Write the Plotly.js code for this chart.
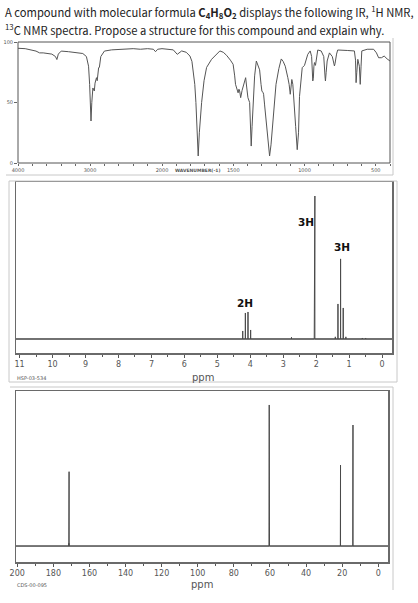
<!DOCTYPE html>
<html>
<head>
<meta charset="utf-8">
<script src="https://cdn.plot.ly/plotly-3.0.1.min.js"></script>
<style>html,body{margin:0;padding:0;background:#fff;}#chart{width:418px;height:603px;}</style>
</head>
<body>
<div id="chart"></div>
<script>
// ---------- DATA ----------
// IR spectrum (wavenumber cm-1, % transmittance)
const irWavenumber = [4000,3900,3750,3700,3650,3600,3530,3480,3460,3440,3400,3300,3200,3100,3050,3020,3005,2995,2986,2975,2960,2940,2930,2910,2900,2880,2870,2850,2800,2700,2600,2500,2400,2300,2200,2120,2090,2060,2000,1950,1921,1893,1862,1830,1804,1790,1781,1770,1762,1755,1746,1738,1730,1722,1705,1687,1652,1620,1594,1570,1547,1520,1501,1490,1484,1466,1460,1455,1448,1438,1427,1413,1405,1397,1385,1378,1374,1368,1363,1350,1338,1325,1315,1305,1299,1290,1287,1280,1268,1255,1245,1235,1220,1200,1180,1163,1150,1135,1117,1108,1100,1094,1089,1082,1075,1062,1051,1042,1035,1025,1016,1000,985,977,960,950,942,938,934,930,923,915,907,883,865,855,853,848,841,825,805,790,786,775,767,700,650,642,638,633,626,615,609,603,598,560,515,495,480,460,441,420,400];
const irTransmittance = [94.8,94.5,92.5,91,91,90.5,90,88,85.5,90,92.5,92,91.5,90.5,88,80,65,45,34.7,50,62,59.5,66,70.5,68,78.8,79,88,92.5,93.5,94,94.5,94.5,94,94.5,94,92,94,94.5,94,93.5,89.8,92.6,91.5,88.4,84,77,65,50,25,5.8,25,40,50,68,79,85.7,90,92.6,91.5,89,85,81.6,72,65,58,61,59.5,54,60,65,70.5,62,54,50,30,14,30,45.7,72,84.3,81,77,65,59.5,58,56.8,48,33,15,5.8,15,40,65,78,86,84,80,70.5,65,56.8,65,69,65,50,30,11,25,55,72,78.8,80.7,86,89.8,92.6,88,67.8,70,80,83,80.7,88,93.4,92.6,88,70,67.8,75,84.3,91,88,80.2,82,90,93.4,93,92.6,85,66.4,75,85.7,80,65,80,92.6,94,94,91,87,87,88.4,86,84.3];
const irXTicks = [4000,3000,2000,1500,1000,500];
const irYTicks = [0,50,100];

// 1H NMR (chemical shift ppm, relative intensity)
const hShift     = [4.23,4.15,4.07,3.99,2.75,2.06,2.04,1.42,1.34,1.26,1.18,1.10,0.60,0.50];
const hIntensity = [5.6,18.2,18.9,6.3,1.2,6,100,1.5,24.5,56,21.7,1.5,0.7,0.7];
const hLabels    = ['2H','3H','3H'];
const hLabelX    = [4.17,2.32,1.22];
const hLabelY    = [25.2,81.8,64.3];
const hTicks     = [0,1,2,3,4,5,6,7,8,9,10,11];

// 13C NMR (chemical shift ppm, relative intensity)
const cShift     = [171.4,171.3,60.55,60.4,60.25,21.0,20.9,14.1,14.0];
const cIntensity = [2,52.7,13,100,13,2,57.4,3.5,85.8];
const cTicks     = [0,20,40,60,80,100,120,140,160,180,200];

// ---------- helpers ----------
const W = 418, H = 603;
const px = v => v / W;
const py = v => 1 - v / H;

function stickTrace(shifts, heights, xr, xa, ya) {
  const idx = shifts.map((s, i) => i).sort((a, b) => shifts[b] - shifts[a]);
  const x = [xr[0]], y = [0];
  idx.forEach(i => { x.push(shifts[i], shifts[i], shifts[i]); y.push(0, heights[i], 0); });
  x.push(xr[1]); y.push(0);
  return {x, y, xaxis: xa, yaxis: ya, type: 'scatter', mode: 'lines',
          line: {color: '#4a4a4a', width: 1}, hoverinfo: 'skip', showlegend: false};
}

const hRange = [11.11, -0.30];
const cRange = [200.7, -5.4];

const irLine = {color: '#555', width: 1};
const traces = [
  {x: irWavenumber, y: irTransmittance, xaxis: 'x', yaxis: 'y', type: 'scatter', mode: 'lines', line: irLine, showlegend: false},
  {x: irWavenumber, y: irTransmittance, xaxis: 'x2', yaxis: 'y', type: 'scatter', mode: 'lines', line: irLine, showlegend: false},
  {x: hRange, y: [0, 0], xaxis: 'x3', yaxis: 'y3', type: 'scatter', mode: 'lines', line: {color: '#9a9a9a', width: 2}, showlegend: false},
  stickTrace(hShift, hIntensity, hRange, 'x3', 'y3'),
  {x: cRange, y: [0, 0], xaxis: 'x4', yaxis: 'y4', type: 'scatter', mode: 'lines', line: {color: '#8a8a8a', width: 1.5}, showlegend: false},
  stickTrace(cShift, cIntensity, cRange, 'x4', 'y4')
];

const tinyFont = {family: 'DejaVu Sans', size: 5, color: '#555'};
const nmrFont = {family: 'DejaVu Sans', size: 8, color: '#555'};

const irAxisCommon = {
  showgrid: false, zeroline: false, showline: false,
  ticks: 'outside', ticklen: 2, tickwidth: 1, tickcolor: '#666',
  tickfont: tinyFont, tickmode: 'array', anchor: 'y', fixedrange: true
};

const layout = {
  width: W, height: H,
  margin: {l: 0, r: 0, t: 0, b: 0},
  paper_bgcolor: '#fff', plot_bgcolor: '#fff',
  showlegend: false,
  xaxis: Object.assign({}, irAxisCommon, {
    domain: [px(18), px(162)], range: [4000, 2000],
    tickvals: irXTicks.filter(v => v > 2000), ticktext: irXTicks.filter(v => v > 2000).map(String),
    minor: {tickmode: 'linear', tick0: 0, dtick: 200, ticks: 'outside', ticklen: 1.5, tickcolor: '#666'}
  }),
  xaxis2: Object.assign({}, irAxisCommon, {
    domain: [px(162), px(390)], range: [2000, 400],
    tickvals: irXTicks.filter(v => v <= 2000), ticktext: irXTicks.filter(v => v <= 2000).map(String),
    minor: {tickmode: 'linear', tick0: 0, dtick: 100, ticks: 'outside', ticklen: 1.5, tickcolor: '#666'}
  }),
  yaxis: {
    domain: [py(163), py(42)], range: [0, 100], anchor: 'x',
    showgrid: false, zeroline: false, showline: false,
    tickmode: 'array', tickvals: irYTicks, ticktext: irYTicks.map(String),
    ticks: 'outside', ticklen: 3, tickcolor: '#666', tickfont: tinyFont, fixedrange: true
  },
  xaxis3: {
    domain: [px(16), px(392)], range: hRange, anchor: 'y3',
    showgrid: false, zeroline: false, showline: true, mirror: true, linecolor: '#6a6a6a', linewidth: 1.5,
    tickmode: 'array', tickvals: hTicks, ticktext: hTicks.map(String),
    ticks: 'outside', ticklen: 3, tickcolor: '#555', tickfont: nmrFont,
    minor: {tickmode: 'linear', tick0: 0, dtick: 0.5, ticks: 'outside', ticklen: 2, tickcolor: '#555'}
  },
  yaxis3: {
    domain: [py(353), py(182)], range: [-9.8, 109.8], anchor: 'x3',
    showgrid: false, zeroline: false, showline: true, mirror: true, linecolor: '#6a6a6a', linewidth: 1.5,
    showticklabels: false, ticks: ''
  },
  xaxis4: {
    domain: [px(16), px(388)], range: cRange, anchor: 'y4',
    showgrid: false, zeroline: false, showline: true, mirror: true, linecolor: '#6a6a6a', linewidth: 1.5,
    tickmode: 'array', tickvals: cTicks, ticktext: cTicks.map(String),
    ticks: 'outside', ticklen: 3, tickcolor: '#555', tickfont: nmrFont,
    minor: {tickmode: 'linear', tick0: 0, dtick: 10, ticks: 'outside', ticklen: 2, tickcolor: '#555'}
  },
  yaxis4: {
    domain: [py(562), py(391)], range: [-11.3, 109.9], anchor: 'x4',
    showgrid: false, zeroline: false, showline: true, mirror: true, linecolor: '#6a6a6a', linewidth: 1.5,
    showticklabels: false, ticks: ''
  },
  shapes: [
    // IR plot frame
    {type: 'rect', xref: 'paper', yref: 'paper', x0: px(18), x1: px(390), y0: py(163), y1: py(42), line: {color: '#555', width: 1}},
    // screenshot panel borders
    {type: 'line', xref: 'paper', yref: 'paper', x0: px(6), x1: px(393), y0: py(175), y1: py(175), line: {color: '#c8c8c8', width: 1}},
    {type: 'line', xref: 'paper', yref: 'paper', x0: px(393), x1: px(393), y0: py(38), y1: py(175), line: {color: '#c8c8c8', width: 1}},
    {type: 'rect', xref: 'paper', yref: 'paper', x0: px(9), x1: px(397), y0: py(382), y1: py(181), line: {color: '#c8c8c8', width: 1}},
    {type: 'line', xref: 'paper', yref: 'paper', x0: px(10), x1: px(393), y0: py(387), y1: py(387), line: {color: '#c8c8c8', width: 1}},
    {type: 'line', xref: 'paper', yref: 'paper', x0: px(393), x1: px(393), y0: py(387), y1: py(590), line: {color: '#c8c8c8', width: 1}}
  ],
  annotations: [
    {xref: 'paper', yref: 'paper', x: px(3), y: py(12), xanchor: 'left', yanchor: 'middle', showarrow: false,
     text: 'A compound with molecular formula <b>C<sub>4</sub>H<sub>8</sub>O<sub>2</sub></b> displays the following IR, <sup>1</sup>H NMR,',
     font: {family: 'Noto Sans CJK KR', size: 11.2, color: '#222'}},
    {xref: 'paper', yref: 'paper', x: px(3), y: py(30), xanchor: 'left', yanchor: 'middle', showarrow: false,
     text: '<sup>13</sup>C NMR spectra. Propose a structure for this compound and explain why.',
     font: {family: 'Noto Sans CJK KR', size: 11.2, color: '#222'}},
    {xref: 'paper', yref: 'paper', x: px(197), y: py(171), xanchor: 'center', yanchor: 'middle', showarrow: false,
     text: '<b>WAVENUMBER(-1)</b>', font: {family: 'DejaVu Sans', size: 4.5, color: '#555'}},
    {xref: 'paper', yref: 'paper', x: px(203), y: py(377), xanchor: 'center', yanchor: 'middle', showarrow: false,
     text: 'ppm', font: {family: 'DejaVu Sans', size: 10, color: '#555'}},
    {xref: 'paper', yref: 'paper', x: px(15), y: py(377.5), xanchor: 'left', yanchor: 'middle', showarrow: false,
     text: 'HSP-03-534', font: {family: 'DejaVu Sans', size: 5, color: '#555'}},
    {xref: 'paper', yref: 'paper', x: px(202), y: py(584), xanchor: 'center', yanchor: 'middle', showarrow: false,
     text: 'ppm', font: {family: 'DejaVu Sans', size: 10, color: '#555'}},
    {xref: 'paper', yref: 'paper', x: px(15), y: py(584.5), xanchor: 'left', yanchor: 'middle', showarrow: false,
     text: 'CDS-00-095', font: {family: 'DejaVu Sans', size: 5, color: '#555'}}
  ].concat(hLabels.map((t, i) => ({
    xref: 'x3', yref: 'y3', x: hLabelX[i], y: hLabelY[i], xanchor: 'center', yanchor: 'middle', showarrow: false,
    text: '<b>' + t + '</b>', font: {family: 'DejaVu Sans', size: 10.5, color: '#111'}
  })))
};

Plotly.newPlot('chart', traces, layout, {staticPlot: true, displayModeBar: false});
</script>
</body>
</html>
